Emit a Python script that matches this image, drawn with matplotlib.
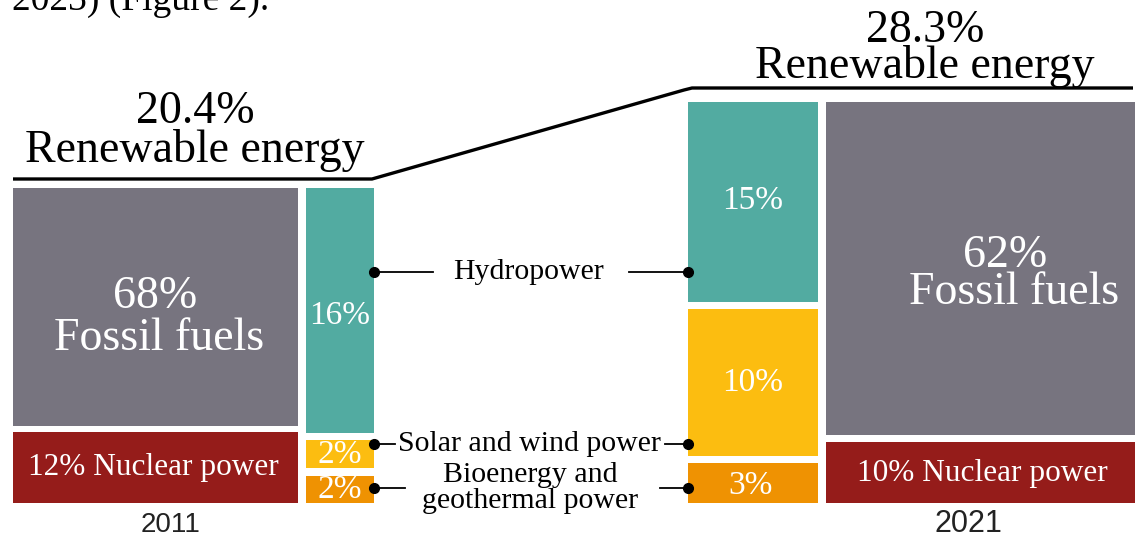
import matplotlib
matplotlib.use("Agg")
import matplotlib.pyplot as plt

# ---------------- data ----------------
years = ["2011", "2021"]
renewable_totals = ["20.4%", "28.3%"]
fossil_share = [68, 62]
nuclear_share = [12, 10]
hydro_share = [16, 15]
solar_wind_share = [2, 10]
bio_geo_share = [2, 3]
renewable_sources = ["Hydropower", "Solar and wind power", "Bioenergy and\ngeothermal power"]

# ---------------- style ----------------
C_FOSSIL = "#77747f"
C_NUCLEAR = "#951c1a"
C_HYDRO = "#52aba1"
C_SOLAR = "#fcbd10"
C_BIO = "#ef9202"
SERIF = ["Liberation Serif", "DejaVu Serif"]
SANS = ["Liberation Sans", "DejaVu Sans"]

fig = plt.figure(figsize=(11.35, 5.38), dpi=100)
ax = fig.add_axes([0, 0, 1, 1])
ax.set_xlim(0, 1135)
ax.set_ylim(538, 0)
ax.axis("off")

# layout (pixel-space blocks of the infographic; not proportional to values)
layout = {
    "2011": {
        "big": (13, 285), "ren": (306, 68),
        "fossil": (188, 426), "nuclear": (432, 503),
        "hydro": (188, 433), "solar": (440, 468), "bio": (476, 503),
    },
    "2021": {
        "big": (826, 312), "ren": (688, 130),
        "fossil": (102, 435), "nuclear": (442, 503),
        "hydro": (102, 302), "solar": (309, 456), "bio": (463, 503),
    },
}

def block(x0w, y0y1, color):
    x0, w = x0w
    y0, y1 = y0y1
    ax.bar(x0, y1 - y0, width=w, bottom=y0, align="edge", color=color, linewidth=0)

for yr in years:
    L = layout[yr]
    block(L["big"], L["fossil"], C_FOSSIL)
    block(L["big"], L["nuclear"], C_NUCLEAR)
    block(L["ren"], L["hydro"], C_HYDRO)
    block(L["ren"], L["solar"], C_SOLAR)
    block(L["ren"], L["bio"], C_BIO)

# ---------------- labels inside blocks ----------------
W = "white"
BIG = 33
MID = 24
SMALL = 22.5
CONN = 21.5
# 2011
ax.text(155, 297, f"{fossil_share[0]}%", color=W, fontsize=BIG, family=SERIF, ha="center", va="center")
ax.text(159, 339, "Fossil fuels", color=W, fontsize=BIG, family=SERIF, ha="center", va="center")
ax.text(153, 468, f"{nuclear_share[0]}% Nuclear power", color=W, fontsize=SMALL, family=SERIF, ha="center", va="center")
ax.text(340, 316, f"{hydro_share[0]}%", color=W, fontsize=MID, family=SERIF, ha="center", va="center")
ax.text(340, 455, f"{solar_wind_share[0]}%", color=W, fontsize=MID, family=SERIF, ha="center", va="center")
ax.text(340, 490, f"{bio_geo_share[0]}%", color=W, fontsize=MID, family=SERIF, ha="center", va="center")
# 2021
ax.text(1005, 256, f"{fossil_share[1]}%", color=W, fontsize=BIG, family=SERIF, ha="center", va="center")
ax.text(1014, 293, "Fossil fuels", color=W, fontsize=BIG, family=SERIF, ha="center", va="center")
ax.text(982, 474, f"{nuclear_share[1]}% Nuclear power", color=W, fontsize=SMALL, family=SERIF, ha="center", va="center")
ax.text(753, 201, f"{hydro_share[1]}%", color=W, fontsize=MID, family=SERIF, ha="center", va="center")
ax.text(753, 383, f"{solar_wind_share[1]}%", color=W, fontsize=MID, family=SERIF, ha="center", va="center")
ax.text(750, 486, f"{bio_geo_share[1]}%", color=W, fontsize=MID, family=SERIF, ha="center", va="center")

# ---------------- year labels ----------------
ax.text(171, 525, years[0], color="#222222", fontsize=20, family=SANS, ha="center", va="center")
ax.text(968, 524, years[1], color="#222222", fontsize=22, family=SANS, ha="center", va="center")

# ---------------- renewable headers + bracket ----------------
ax.text(195, 112, renewable_totals[0], color="black", fontsize=BIG, family=SERIF, ha="center", va="center")
ax.text(195, 150, "Renewable energy", color="black", fontsize=BIG, family=SERIF, ha="center", va="center")
ax.text(925, 31, renewable_totals[1], color="black", fontsize=BIG, family=SERIF, ha="center", va="center")
ax.text(925, 67, "Renewable energy", color="black", fontsize=BIG, family=SERIF, ha="center", va="center")
ax.plot([13, 372, 684, 692, 1133], [179, 179, 90, 88, 88], color="black", lw=2.4,
        solid_joinstyle="round", solid_capstyle="butt")

# top cut-off text from the page
ax.text(12, 10, "2023) (Figure 2).", color="black", fontsize=27, family=SERIF, ha="left", va="baseline")

# ---------------- connectors ----------------
conn = [
    (272, 433, 629, renewable_sources[0], 528, 272),
    (444, 395, 665, renewable_sources[1], 529, 444),
    (488, 405, 660, renewable_sources[2], 530, 488),
]
for y, xl, xr, label, tx, ty in conn:
    ax.plot([374, xl], [y, y], color="black", lw=1.3)
    ax.plot([xr, 688], [y, y], color="black", lw=1.3)
    ax.plot([374, 688], [y, y], "o", color="black", ms=7)
    ax.text(tx, ty, label, color="black", fontsize=CONN, family=SERIF, ha="center", va="center",
            linespacing=0.95)

fig.savefig("out.png", dpi=100)
